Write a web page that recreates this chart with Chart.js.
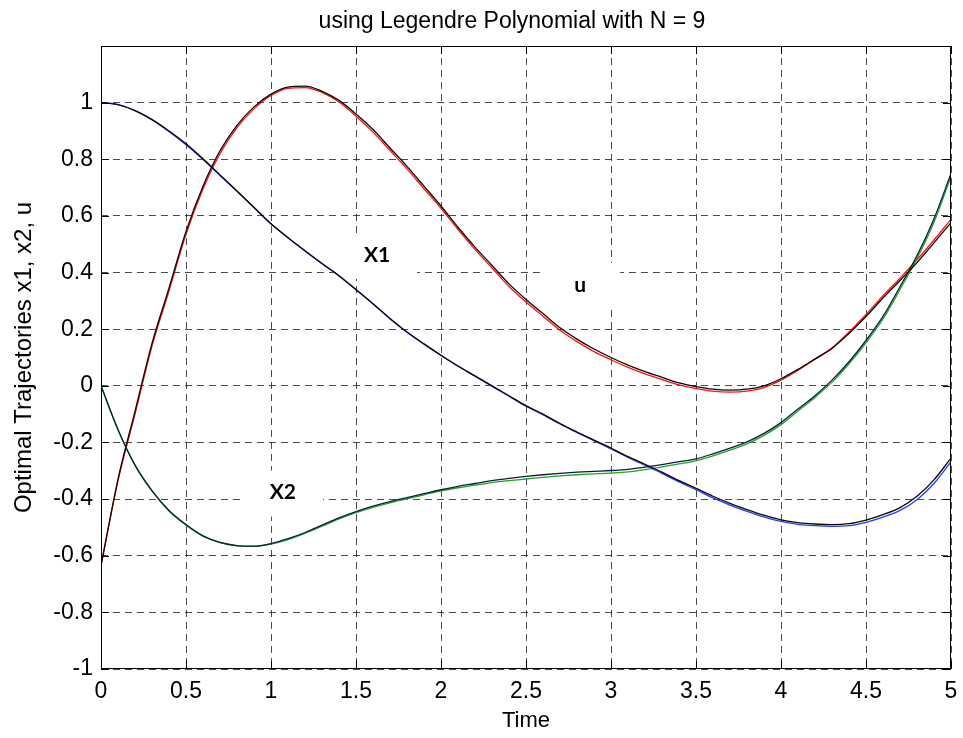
<!DOCTYPE html>
<html>
<head>
<meta charset="utf-8">
<script src="https://cdn.jsdelivr.net/npm/chart.js@4.4.1/dist/chart.umd.min.js"></script>
<style>
    html, body { margin: 0; padding: 0; background: #fff; }
    #wrap { width: 963px; height: 738px; }
</style>
</head>
<body>
<div id="wrap"><canvas id="trajChart" width="963" height="738"></canvas></div>
<script>
// time grid and trajectories
const time = [0, 0.1, 0.2, 0.3, 0.4, 0.5, 0.6, 0.7, 0.8, 0.9,
    1, 1.1, 1.2, 1.3, 1.4, 1.5, 1.6, 1.7, 1.8, 1.9,
    2, 2.1, 2.2, 2.3, 2.4, 2.5, 2.6, 2.7, 2.8, 2.9,
    3, 3.1, 3.2, 3.3, 3.4, 3.5, 3.6, 3.7, 3.8, 3.9,
    4, 4.1, 4.2, 4.3, 4.4, 4.5, 4.6, 4.7, 4.8, 4.9, 5];

// dark traces
const x1Vals = [1.000, 0.993, 0.972, 0.940, 0.900, 0.855, 0.802, 0.745, 0.688, 0.630,
    0.572, 0.523, 0.477, 0.432, 0.389, 0.340, 0.290, 0.238, 0.190, 0.148,
    0.108, 0.070, 0.035, 0.000, -0.035, -0.070, -0.100, -0.133, -0.163, -0.192,
    -0.220, -0.250, -0.277, -0.305, -0.335, -0.362, -0.390, -0.415, -0.437, -0.457,
    -0.473, -0.483, -0.488, -0.490, -0.487, -0.474, -0.455, -0.430, -0.390, -0.332, -0.255];

const x2Vals = [0.000, -0.155, -0.280, -0.370, -0.440, -0.490, -0.530, -0.553, -0.564, -0.566,
    -0.557, -0.540, -0.518, -0.492, -0.466, -0.444, -0.425, -0.409, -0.395, -0.381,
    -0.367, -0.355, -0.345, -0.335, -0.327, -0.320, -0.314, -0.309, -0.305, -0.302,
    -0.299, -0.295, -0.287, -0.278, -0.268, -0.258, -0.240, -0.220, -0.198, -0.168,
    -0.130, -0.082, -0.035, 0.020, 0.085, 0.160, 0.245, 0.350, 0.460, 0.590, 0.750];

const uVals = [-0.635, -0.330, -0.090, 0.150, 0.345, 0.545, 0.705, 0.830, 0.920, 0.985,
    1.030, 1.055, 1.058, 1.040, 1.008, 0.960, 0.905, 0.840, 0.775, 0.705,
    0.635, 0.560, 0.490, 0.425, 0.360, 0.305, 0.255, 0.205, 0.165, 0.130,
    0.100, 0.073, 0.050, 0.030, 0.010, -0.003, -0.012, -0.015, -0.012, 0.000,
    0.025, 0.058, 0.095, 0.132, 0.185, 0.245, 0.310, 0.372, 0.435, 0.505, 0.576];

// coloured traces lying just beside the dark ones
const x1Blue = [1.000, 0.993, 0.972, 0.940, 0.898, 0.851, 0.799, 0.743, 0.687, 0.630,
    0.572, 0.523, 0.476, 0.431, 0.388, 0.339, 0.289, 0.237, 0.189, 0.147,
    0.107, 0.069, 0.034, -0.002, -0.037, -0.072, -0.102, -0.135, -0.165, -0.194,
    -0.223, -0.253, -0.281, -0.309, -0.339, -0.367, -0.396, -0.421, -0.443, -0.463,
    -0.479, -0.489, -0.494, -0.496, -0.494, -0.482, -0.464, -0.440, -0.402, -0.345, -0.268];

const x2Green = [0.000, -0.155, -0.280, -0.372, -0.442, -0.492, -0.531, -0.554, -0.565, -0.567,
    -0.559, -0.543, -0.521, -0.496, -0.470, -0.448, -0.429, -0.413, -0.399, -0.385,
    -0.371, -0.360, -0.351, -0.342, -0.335, -0.329, -0.323, -0.318, -0.314, -0.311,
    -0.308, -0.304, -0.296, -0.286, -0.276, -0.265, -0.247, -0.227, -0.205, -0.175,
    -0.137, -0.089, -0.041, 0.013, 0.078, 0.152, 0.236, 0.340, 0.450, 0.578, 0.740];

const uRed = [-0.635, -0.335, -0.100, 0.140, 0.335, 0.535, 0.695, 0.820, 0.912, 0.978,
    1.025, 1.050, 1.053, 1.036, 1.002, 0.952, 0.896, 0.831, 0.766, 0.696,
    0.627, 0.552, 0.482, 0.416, 0.351, 0.296, 0.246, 0.196, 0.156, 0.121,
    0.092, 0.065, 0.042, 0.022, 0.003, -0.010, -0.019, -0.022, -0.019, -0.006,
    0.020, 0.055, 0.094, 0.134, 0.190, 0.252, 0.318, 0.380, 0.445, 0.515, 0.588];

// curve labels (data coordinates)
const labelText = ['X1', 'u', 'X2'];
const labelT = [1.624, 2.818, 1.07];
const labelV = [0.462, 0.356, -0.377];

const chartTitle = 'using Legendre Polynomial with N = 9';

const toPoints = vals => time.map((t, i) => ({ x: t, y: vals[i] }));

const fmtTick = v => {
    const r = Math.round(v * 10) / 10;
    return r === 0 ? '0' : String(r);
};

const sans = '"Liberation Sans", Arial, sans-serif';
const tickFont = { family: sans, size: 23 };

const labelBoxes = {
    id: 'labelBoxes',
    beforeDatasetsDraw(chart) {
        const { ctx, scales: { x, y } } = chart;
        ctx.save();
        ctx.fillStyle = '#fff';
        labelText.forEach((txt, i) => {
            const px = x.getPixelForValue(labelT[i]);
            const py = y.getPixelForValue(labelV[i]);
            ctx.fillRect(px - 38, py - 22, 78, 46);
        });
        ctx.restore();
    },
    afterDatasetsDraw(chart) {
        const { ctx, chartArea: a, scales: { x, y } } = chart;
        ctx.save();
        // box round the axes with inward ticks
        ctx.strokeStyle = '#000';
        ctx.lineWidth = 1;
        ctx.strokeRect(a.left + 0.5, a.top + 0.5, a.right - a.left - 1, a.bottom - a.top - 1);
        ctx.beginPath();
        x.ticks.forEach(t => {
            const px = Math.round(x.getPixelForValue(t.value)) + 0.5;
            ctx.moveTo(px, a.bottom); ctx.lineTo(px, a.bottom - 8);
            ctx.moveTo(px, a.top); ctx.lineTo(px, a.top + 8);
        });
        y.ticks.forEach(t => {
            const py = Math.round(y.getPixelForValue(t.value)) + 0.5;
            ctx.moveTo(a.left, py); ctx.lineTo(a.left + 8, py);
            ctx.moveTo(a.right, py); ctx.lineTo(a.right - 8, py);
        });
        ctx.stroke();

        ctx.fillStyle = '#000';
        ctx.font = 'bold 21px Lato, "Open Sans", sans-serif';
        ctx.textAlign = 'center';
        ctx.textBaseline = 'middle';
        labelText.forEach((txt, i) => {
            ctx.fillText(txt, x.getPixelForValue(labelT[i]), y.getPixelForValue(labelV[i]));
        });

        // title, sitting a little left of the axes centre as in the original
        ctx.font = '23px ' + sans;
        ctx.textBaseline = 'alphabetic';
        ctx.fillText(chartTitle, (a.left + a.right) / 2 - 14, 28);
        ctx.restore();
    }
};

const lineStyle = (vals, color, width) => ({
    data: toPoints(vals),
    borderColor: color,
    borderWidth: width,
    pointRadius: 0,
    fill: false,
    cubicInterpolationMode: 'monotone'
});

new Chart(document.getElementById('trajChart'), {
    type: 'line',
    data: {
        // first dataset is drawn on top
        datasets: [
            lineStyle(x1Vals, '#140404', 1.3),
            lineStyle(x2Vals, '#0b1f3a', 1.3),
            lineStyle(uVals, '#140404', 1.3),
            lineStyle(x1Blue, '#1f3cff', 1.3),
            lineStyle(x2Green, '#22a02a', 1.3),
            lineStyle(uRed, '#ff1010', 1.3)
        ]
    },
    options: {
        responsive: false,
        animation: false,
        layout: { padding: { right: 12, left: 0, bottom: 0, top: 46 } },
        plugins: {
            legend: { display: false },
            tooltip: { enabled: false },
            title: { display: false }
        },
        scales: {
            x: {
                type: 'linear',
                min: 0,
                max: 5,
                ticks: { stepSize: 0.5, color: '#000', font: tickFont, padding: 9, maxRotation: 0, callback: fmtTick },
                grid: { color: 'rgba(0,0,0,0.7)', lineWidth: 1, drawTicks: false },
                border: { display: false, dash: [7, 5] },
                title: { display: true, text: 'Time', color: '#000', font: { family: sans, size: 22 }, padding: { top: 2, bottom: 4 } },
                afterFit: s => { s.height = 69; s.paddingLeft = 0; s.paddingRight = 0; }
            },
            y: {
                min: -1,
                max: 1.2,
                ticks: {
                    stepSize: 0.2, color: '#000', font: tickFont, padding: 8,
                    callback: v => (Math.round(v * 10) === 12 ? '' : fmtTick(v))
                },
                grid: { color: 'rgba(0,0,0,0.7)', lineWidth: 1, drawTicks: false },
                border: { display: false, dash: [7, 5] },
                title: { display: true, text: 'Optimal Trajectories x1, x2, u', color: '#000', font: { family: sans, size: 24 }, padding: { top: 10, bottom: 0 } },
                afterFit: s => { s.width = 101; s.paddingTop = 0; s.paddingBottom = 0; }
            }
        }
    },
    plugins: [labelBoxes]
});
</script>
</body>
</html>
